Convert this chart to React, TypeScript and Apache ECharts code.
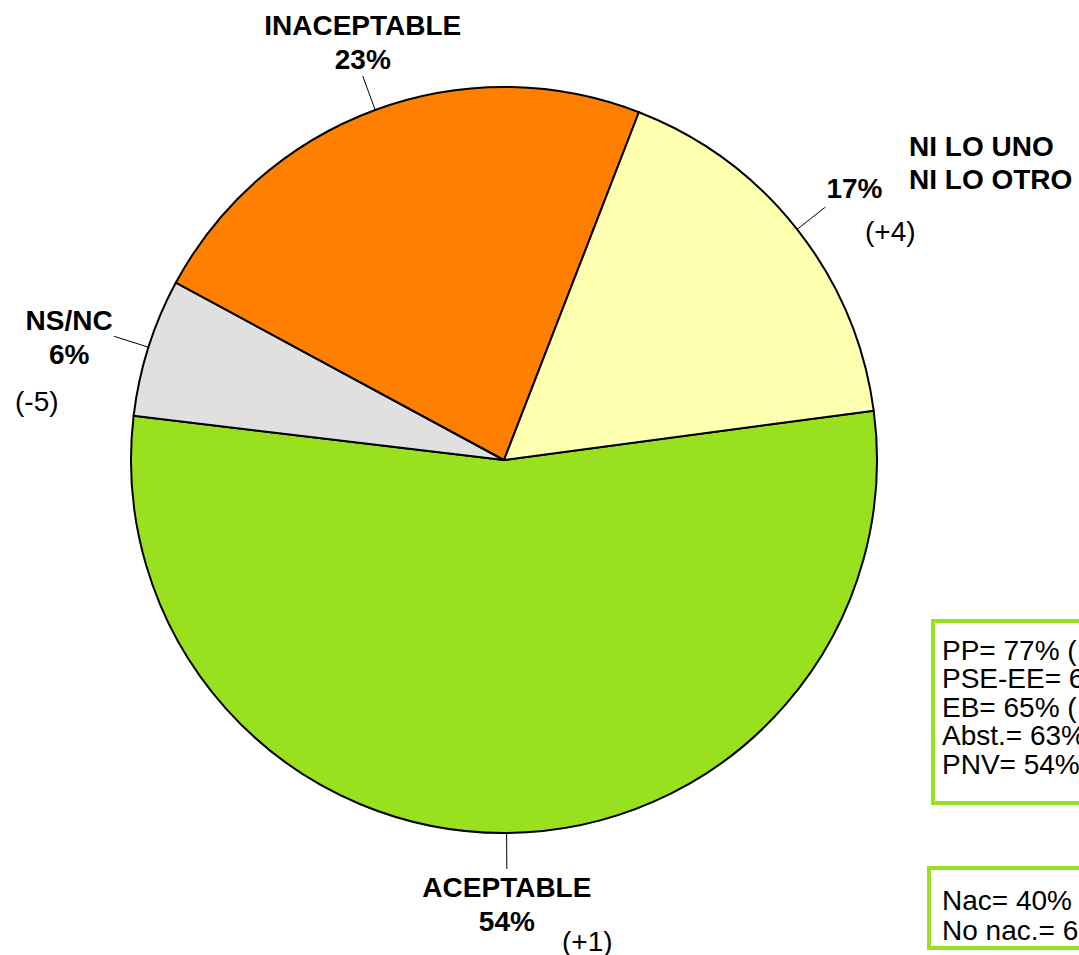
import React, { useEffect, useRef } from "react";
import * as echarts from "echarts";

const categories = ["ACEPTABLE", "NS/NC", "INACEPTABLE", "NI LO UNO NI LO OTRO"];
const values = [54, 6, 23, 17];
const colors = ["#99e01e", "#e0e0e0", "#ff8000", "#ffffb0"];
const changes = ["(+1)", "(-5)", "", "(+4)"];
const partyLines = ["PP= 77% (", "PSE-EE= 6", "EB= 65% (", "Abst.= 63%", "PNV= 54%"];
const originLines = ["Nac= 40%", "No nac.= 6"];

const FONT = 'Arial, "Liberation Sans", sans-serif';

export default function App() {
  const ref = useRef<HTMLDivElement>(null);
  useEffect(() => {
    if (!ref.current) return;
    const chart = echarts.init(ref.current, null, { renderer: "svg" });
    const cx = 504, cy = 460, r = 373;

    const graphics: any[] = [];
    graphics.push({
      type: "text", x: 909, y: 163,
      style: { text: "NI LO UNO\nNI LO OTRO", font: `bold 28px ${FONT}`, lineHeight: 33, fill: "#000", align: "left", verticalAlign: "middle" },
    });
    const changePos = [[562, 941], [15, 401], [0, 0], [865, 231]];
    changes.forEach((c, i) => {
      if (!c) return;
      graphics.push({
        type: "text", x: changePos[i][0], y: changePos[i][1],
        style: { text: c, font: `28px ${FONT}`, fill: "#000", align: "left", verticalAlign: "middle" },
      });
    });
    graphics.push({
      type: "rect", shape: { x: 933, y: 621, width: 200, height: 182 },
      style: { fill: "#fff", stroke: "#99e01e", lineWidth: 4 },
    });
    partyLines.forEach((t, i) => {
      graphics.push({
        type: "text", x: 942, y: 650 + i * 28.5,
        style: { text: t, font: `28px ${FONT}`, fill: "#000", align: "left", verticalAlign: "middle" },
      });
    });
    graphics.push({
      type: "rect", shape: { x: 929, y: 868, width: 200, height: 80 },
      style: { fill: "#fff", stroke: "#99e01e", lineWidth: 4 },
    });
    originLines.forEach((t, i) => {
      graphics.push({
        type: "text", x: 942, y: 900 + i * 30,
        style: { text: t, font: `28px ${FONT}`, fill: "#000", align: "left", verticalAlign: "middle" },
      });
    });

    chart.setOption({
      animation: false,
      backgroundColor: "#fff",
      graphic: graphics,
      series: [
        {
          type: "pie",
          center: [cx, cy],
          radius: [0, r],
          startAngle: 7.6,
          clockwise: true,
          avoidLabelOverlap: false,
          data: categories.map((n, i) => ({
            name: n,
            value: values[i],
            itemStyle: { color: colors[i] },
          })),
          itemStyle: { borderColor: "#000", borderWidth: 2 },
          label: {
            show: true,
            position: "outside",
            formatter: (p: any) =>
              p.dataIndex === 3 ? `${p.value}%` : `${p.name}\n${p.value}%`,
            fontFamily: FONT,
            fontWeight: "bold",
            fontSize: 28,
            lineHeight: 34.5,
            color: "#000",
          },
          labelLine: {
            show: true,
            length: 36,
            length2: 0,
            lineStyle: { color: "#000", width: 1 },
          },
          labelLayout: (p: any) => {
            const pts = p.labelLinePoints;
            const end = pts[pts.length - 1];
            const base = { labelLinePoints: pts };
            switch (p.dataIndex) {
              case 0:
                return { ...base, x: end[0], y: end[1] + 1, align: "center", verticalAlign: "top" };
              case 1:
                return { ...base, x: end[0] - 45, y: end[1] + 1, align: "center", verticalAlign: "middle" };
              case 2:
                return { ...base, x: end[0], y: end[1] + 1, align: "center", verticalAlign: "bottom" };
              default:
                return { ...base, x: end[0] + 1, y: end[1] - 19, align: "left", verticalAlign: "middle" };
            }
          },
          emphasis: { disabled: true },
        },
      ],
    });
    return () => chart.dispose();
  }, []);
  return (
    <div
      ref={ref}
      style={{ position: "fixed", left: 0, top: 0, width: 1079, height: 955 }}
    />
  );
}
